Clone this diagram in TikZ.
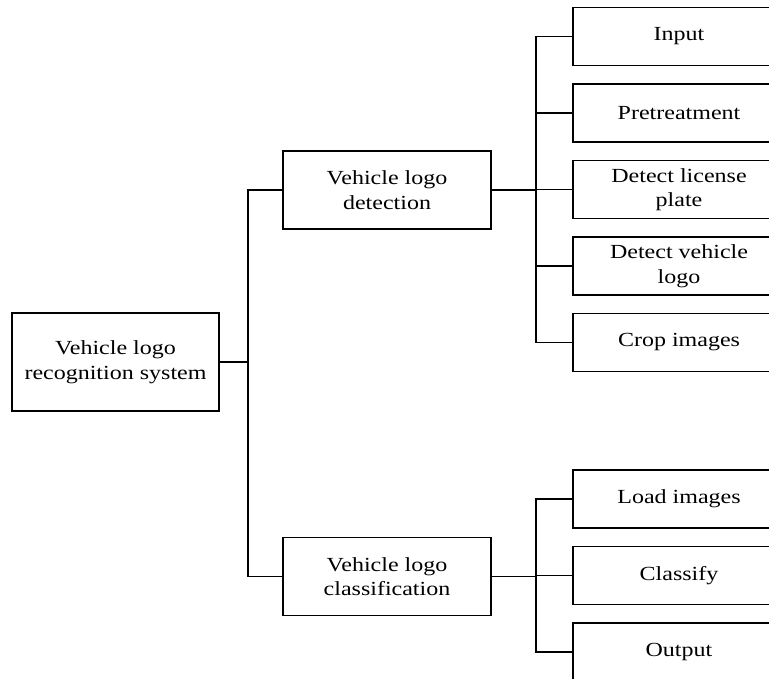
\documentclass[tikz,border=0pt]{standalone}
\usepackage{fontspec}
\setmainfont{Liberation Serif}[FakeStretch=1.2]
\usetikzlibrary{positioning}
\tikzset{
  rootbox/.style={
    rectangle,
    draw,
    line width=1.8pt,
    outer sep=0pt,
    align=center,
    font=\fontsize{20}{24.5}\selectfont,
    minimum width=207pt,
    minimum height=98pt
  },
  stagebox/.style={
    rectangle,
    draw,
    line width=1.8pt,
    outer sep=0pt,
    align=center,
    font=\fontsize{20}{24.5}\selectfont,
    minimum width=208pt,
    minimum height=78pt
  },
  taskbox/.style={
    rectangle,
    draw,
    line width=1.8pt,
    outer sep=0pt,
    align=center,
    font=\fontsize{20}{24.5}\selectfont,
    minimum width=212pt,
    minimum height=58pt
  },
  treeline/.style={line width=1.8pt}
}
\begin{document}
\begin{tikzpicture}[x=1pt,y=-1pt,node distance=18.5pt]
  \useasboundingbox (0,0) rectangle (769,679);
  \node[rootbox] (root) at (115.5,362) {Vehicle logo\\recognition system};
  \node[stagebox] (det) at (387,190) {Vehicle logo\\detection};
  \node[stagebox] (cls) at (387,576.5) {Vehicle logo\\classification};
  % detection steps
  \node[taskbox] (input) at (679,36.5) {Input};
  \node[taskbox, below=of input] (pre) {Pretreatment};
  \node[taskbox, below=of pre] (plate) {Detect license\\plate};
  \node[taskbox, below=of plate] (logo) {Detect vehicle\\logo};
  \node[taskbox, below=of logo] (crop) {Crop images};
  % classification steps
  \node[taskbox] (load) at (679,499) {Load images};
  \node[taskbox, below=of load] (classify) {Classify};
  \node[taskbox, below=of classify] (output) {Output};
  \coordinate (trunk) at (248,362);
  \coordinate (dspine) at (536,190);
  \coordinate (cspine) at (536,576.5);
  \draw[treeline] (root) -- (trunk);
  \draw[treeline] (det.west) -| (trunk) |- (cls.west);
  \draw[treeline] (det) -- (dspine);
  \draw[treeline] (input.west) -| (dspine) |- (crop.west);
  \foreach \t in {pre,plate,logo}
    \draw[treeline] (\t.west) -- (\t.west -| dspine);
  \draw[treeline] (cls) -- (cspine);
  \draw[treeline] (load.west) -| (cspine) |- (output.west);
  \draw[treeline] (classify.west) -- (classify.west -| cspine);
\end{tikzpicture}
\end{document}
